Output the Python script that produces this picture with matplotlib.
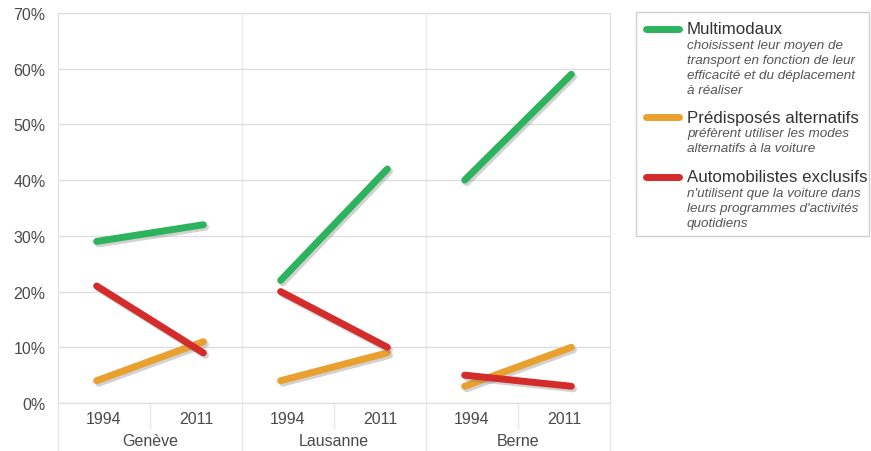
import matplotlib
matplotlib.use("Agg")
import matplotlib.pyplot as plt
import matplotlib.patheffects as pe
from matplotlib.lines import Line2D
from matplotlib.patches import Rectangle

plt.rcParams['font.family'] = ['Liberation Sans', 'DejaVu Sans']

# data (percent)
cities = ["Genève", "Lausanne", "Berne"]
years = ["1994", "2011"]
multimodaux = [[29, 32], [22, 42], [40, 59]]
predisposes = [[4, 11], [4, 9], [3, 10]]
automobilistes = [[21, 9], [20, 10], [5, 3]]

series_names = ["Multimodaux", "Prédisposés alternatifs", "Automobilistes exclusifs"]
series_desc = [
    ["choisissent leur moyen de", "transport en fonction de leur",
     "efficacité et du déplacement", "à réaliser"],
    ["préfèrent utiliser les modes", "alternatifs à la voiture"],
    ["n'utilisent que la voiture dans", "leurs programmes d'activités", "quotidiens"],
]
colors = ["#2db35d", "#e9a02e", "#d42b2b"]
yticks = [0, 10, 20, 30, 40, 50, 60, 70]

text_col = "#4a4a4a"
grid_col = "#dedede"

fig = plt.figure(figsize=(8.71, 4.52), dpi=100)
ax = fig.add_axes([58 / 871, 1 - 404 / 452, 552 / 871, 390 / 452])

shadow = [pe.SimpleLineShadow(offset=(1.5, -1.8), shadow_color="#808080", alpha=0.35),
          pe.Normal()]

# draw order: orange first, red, green on top
order = [1, 2, 0]
all_series = [multimodaux, predisposes, automobilistes]
for s in order:
    for i, vals in enumerate(all_series[s]):
        ax.plot([i + 0.21, i + 0.79], vals, color=colors[s], lw=5,
                solid_capstyle="round", path_effects=shadow, zorder=3 + (s == 0))

ax.set_xlim(0, len(cities))
ax.set_ylim(0, 70)
ax.set_yticks(yticks)
ax.set_yticklabels([f"{v}%" for v in yticks], fontsize=11.5, color=text_col)
ax.tick_params(axis="y", length=0, pad=9)
ax.set_xticks([])
ax.grid(axis="y", color=grid_col, lw=1)
for i in range(1, len(cities)):
    ax.axvline(i, color="#ececec", lw=1, zorder=0)
for sp in ax.spines.values():
    sp.set_color(grid_col)

# category axis: years and cities
tr = ax.get_xaxis_transform()
for i, c in enumerate(cities):
    for j, y in enumerate(years):
        ax.text(i + 0.25 + 0.5 * j, -0.04, y, transform=tr, ha="center", va="center",
                fontsize=11.5, color=text_col)
    ax.text(i + 0.5, -0.095, c, transform=tr, ha="center", va="center",
            fontsize=11.5, color=text_col)
    ax.add_line(Line2D([i + 0.5, i + 0.5], [0, -0.065], transform=tr, color="#e6e6e6",
                       lw=1, clip_on=False))
    ax.add_line(Line2D([i, i], [0, -0.125], transform=tr, color="#e6e6e6",
                       lw=1, clip_on=False))
ax.add_line(Line2D([len(cities)] * 2, [0, -0.125], transform=tr, color="#e6e6e6",
                   lw=1, clip_on=False))

# legend box, drawn by hand
W, H = 871, 452
fig.patches.append(Rectangle((636 / W, 1 - 237 / H), 233 / W, 224 / H,
                             transform=fig.transFigure, fill=False,
                             ec="#cfcfcf", lw=1))
title_y = [30, 118, 178]
for k in range(3):
    yy = 1 - title_y[k] / H
    fig.add_artist(Line2D([646 / W, 679 / W], [yy, yy], transform=fig.transFigure,
                          color=colors[k], lw=5, solid_capstyle="round"))
    fig.text(687 / W, yy, series_names[k], fontsize=12.2, color="#333333",
             ha="left", va="center")
    for n, line in enumerate(series_desc[k]):
        fig.text(687 / W, 1 - (title_y[k] + 16.5 + 14.7 * n) / H, line, fontsize=9.7,
                 style="italic", color="#555555", ha="left", va="center")

fig.savefig("out.png", dpi=100)
